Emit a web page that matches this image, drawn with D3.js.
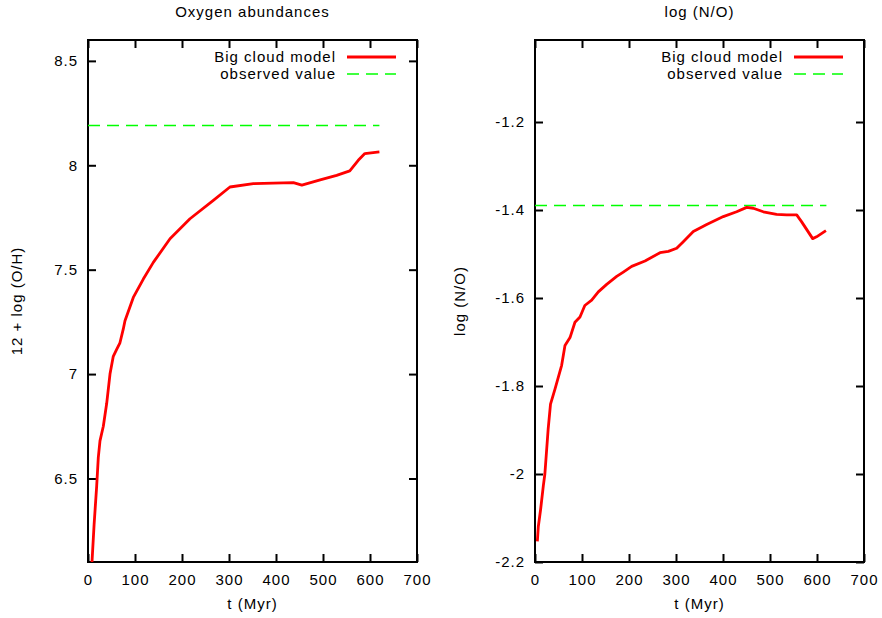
<!DOCTYPE html>
<html>
<head>
<meta charset="utf-8">
<script src="https://cdn.jsdelivr.net/npm/d3@7"></script>
<style>
body { margin: 0; background: #fff; }
text { font-family: "Liberation Sans", Arial, sans-serif; font-size: 15px; letter-spacing: 1px; fill: #000; }
</style>
</head>
<body>
<div id="the_chart"></div>
<script>
// time axis values (Myr)
var timeTicks = [0, 100, 200, 300, 400, 500, 600, 700];

// oxygen abundance, big cloud model
var oxyTime = [6, 8.5, 13, 18.5, 21.9, 25.5, 32.6, 39.8, 46.8, 53.8, 61, 68, 75, 78.7, 96.4, 117.7, 139, 174.5, 217, 266.7, 302, 351.8, 394, 437, 455, 494, 529, 557, 575, 589, 620];
var oxyValue = [5.98, 6.1, 6.28, 6.465, 6.6, 6.68, 6.75, 6.86, 7.0, 7.085, 7.118, 7.15, 7.215, 7.255, 7.367, 7.455, 7.535, 7.648, 7.744, 7.832, 7.896, 7.912, 7.915, 7.917, 7.905, 7.93, 7.952, 7.973, 8.024, 8.056, 8.064];
var oxyTicks = [6.5, 7, 7.5, 8, 8.5];
var oxyObserved = 8.19;

// log(N/O), big cloud model
var noTime = [5, 7, 12, 17.7, 21, 28, 33, 42.5, 56.7, 63.8, 74.5, 85, 95.7, 106, 120.6, 134.7, 152.5, 173.8, 187.9, 205.7, 234, 266, 283.7, 301.5, 315.5, 336.8, 365.3, 400.6, 429, 450.4, 464.5, 485.7, 514, 535.5, 556.8, 567.4, 590.8, 599, 619];
var noValue = [-2.153, -2.12, -2.08, -2.027, -2.0, -1.898, -1.841, -1.807, -1.753, -1.708, -1.69, -1.655, -1.643, -1.617, -1.605, -1.586, -1.569, -1.551, -1.541, -1.528, -1.516, -1.497, -1.494, -1.487, -1.472, -1.449, -1.433, -1.415, -1.404, -1.394, -1.396, -1.404, -1.41, -1.411, -1.411, -1.427, -1.465, -1.461, -1.447];
var noTicks = [-2.2, -2, -1.8, -1.6, -1.4, -1.2];
var noObserved = -1.39;

var observedSpan = [0, 620];

var w = 882;
var h = 618;

var svg = d3.select("#the_chart")
    .append("svg")
    .attr("width", w)
    .attr("height", h);

function fmt(d) {
    return String(+d.toFixed(1));
}

function gen_panel(opt) {
    var left = opt.left, right = opt.left + 329, top = 40, bottom = 562;

    var xscale = d3.scaleLinear()
        .domain([0, 700])
        .range([left, right]);

    var yscale = d3.scaleLinear()
        .domain(opt.ydomain)
        .range([bottom, top]);

    var g = svg.append("g");

    var clipId = "clip" + opt.left;
    g.append("clipPath")
        .attr("id", clipId)
        .append("rect")
        .attr("x", left)
        .attr("y", top)
        .attr("width", right - left)
        .attr("height", bottom - top);

    // axes, gnuplot style: ticks inward and mirrored
    var xaxis = d3.axisBottom(xscale).tickValues(timeTicks).tickSizeInner(-8).tickSizeOuter(0).tickPadding(12).tickFormat(d3.format("d"));
    var xaxisTop = d3.axisTop(xscale).tickValues(timeTicks).tickSizeInner(-8).tickSizeOuter(0).tickFormat("");
    var yaxis = d3.axisLeft(yscale).tickValues(opt.yticks).tickSizeInner(-8).tickSizeOuter(0).tickPadding(10).tickFormat(fmt);
    var yaxisRight = d3.axisRight(yscale).tickValues(opt.yticks).tickSizeInner(-8).tickSizeOuter(0).tickFormat("");

    var gx = g.append("g").attr("transform", "translate(0," + bottom + ")").call(xaxis);
    var gxt = g.append("g").attr("transform", "translate(0," + top + ")").call(xaxisTop);
    var gy = g.append("g").attr("transform", "translate(" + left + ",0)").call(yaxis);
    var gyr = g.append("g").attr("transform", "translate(" + right + ",0)").call(yaxisRight);

    [gx, gxt, gy, gyr].forEach(function (a) {
        a.attr("font-size", null).attr("font-family", null);
        a.select(".domain").remove();
        a.selectAll("line").attr("stroke", "#000").attr("stroke-width", 2);
        a.selectAll("text").attr("fill", "#000");
    });

    g.append("rect")
        .attr("x", left)
        .attr("y", top)
        .attr("width", right - left)
        .attr("height", bottom - top)
        .attr("fill", "none")
        .attr("stroke", "#000")
        .attr("stroke-width", 2);

    // observed value
    g.append("line")
        .attr("x1", xscale(observedSpan[0]))
        .attr("x2", xscale(observedSpan[1]))
        .attr("y1", yscale(opt.observed))
        .attr("y2", yscale(opt.observed))
        .attr("stroke", "#00ff00")
        .attr("stroke-width", 1.5)
        .attr("stroke-dasharray", "12,7");

    // model curve
    var line = d3.line()
        .x(function (d) { return xscale(d[0]); })
        .y(function (d) { return yscale(d[1]); });

    g.append("path")
        .datum(d3.zip(opt.time, opt.value))
        .attr("clip-path", "url(#" + clipId + ")")
        .attr("d", line)
        .attr("fill", "none")
        .attr("stroke", "#ff0000")
        .attr("stroke-width", 2.8)
        .attr("stroke-linejoin", "round");

    // legend
    var lx = right - 81;
    g.append("text").attr("x", lx).attr("y", 62).attr("text-anchor", "end").text("Big cloud model");
    g.append("line").attr("x1", lx + 11).attr("x2", lx + 60).attr("y1", 57).attr("y2", 57)
        .attr("stroke", "#ff0000").attr("stroke-width", 2.8);
    g.append("text").attr("x", lx).attr("y", 79).attr("text-anchor", "end").text("observed value");
    g.append("line").attr("x1", lx + 11).attr("x2", lx + 60).attr("y1", 74).attr("y2", 74)
        .attr("stroke", "#00ff00").attr("stroke-width", 1.5).attr("stroke-dasharray", "12,7");

    // titles
    g.append("text").attr("x", (left + right) / 2).attr("y", 17).attr("text-anchor", "middle").text(opt.title);
    g.append("text").attr("x", (left + right) / 2).attr("y", 609).attr("text-anchor", "middle").text("t (Myr)");
    g.append("text")
        .attr("transform", "translate(" + opt.ylabelX + "," + ((top + bottom) / 2) + ") rotate(-90)")
        .attr("text-anchor", "middle")
        .text(opt.ylabel);
}

gen_panel({
    left: 88,
    ydomain: [6.1, 8.6],
    yticks: oxyTicks,
    time: oxyTime,
    value: oxyValue,
    observed: oxyObserved,
    title: "Oxygen abundances",
    ylabel: "12 + log (O/H)",
    ylabelX: 22
});

gen_panel({
    left: 535,
    ydomain: [-2.2, -1.0136],
    yticks: noTicks,
    time: noTime,
    value: noValue,
    observed: noObserved,
    title: "log (N/O)",
    ylabel: "log (N/O)",
    ylabelX: 465
});
</script>
</body>
</html>
